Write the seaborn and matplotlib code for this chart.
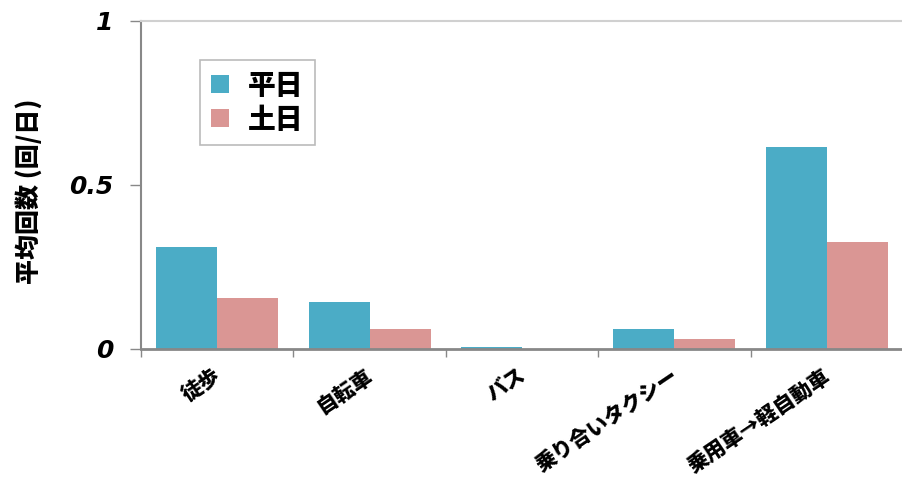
import matplotlib
matplotlib.use("Agg")
import matplotlib.pyplot as plt
import matplotlib.transforms as mtransforms
import seaborn as sns
import pandas as pd
import numpy as np

categories = ["徒歩", "自転車", "バス", "乗り合いタクシー", "乗用車→軽自動車"]
weekday = [0.311, 0.143, 0.006, 0.061, 0.616]
weekend = [0.155, 0.061, 0.0, 0.030, 0.326]
series = ["平日", "土日"]
colors = ["#4BACC6", "#DA9694"]
y_ticks = [0, 0.5, 1]
y_tick_labels = ["0", "0.5", "1"]
y_label = "平均回数 (回/日)"

sns.set_theme(style="white")
plt.rcParams['font.family'] = ['Noto Sans CJK JP', 'DejaVu Sans']
plt.rcParams['text.color'] = 'black'
plt.rcParams['axes.labelcolor'] = 'black'
plt.rcParams['xtick.color'] = 'black'
plt.rcParams['ytick.color'] = 'black'

df = pd.DataFrame({
    "cat": categories * 2,
    "series": [series[0]] * len(categories) + [series[1]] * len(categories),
    "val": weekday + weekend,
})

fig = plt.figure(figsize=(9.03, 4.8), dpi=100)
ax = fig.add_axes([141 / 903, 1 - 349 / 480, 762 / 903, 328 / 480])

sns.barplot(data=df, x="cat", y="val", hue="series", palette=colors,
            width=0.8, ax=ax, saturation=1, linewidth=0)

ax.set_xlim(-0.5, len(categories) - 0.5)
ax.set_ylim(0, 1)
ax.set_xlabel("")
ax.set_ylabel(y_label, fontsize=18, fontweight="heavy", color="black",
              family=['Noto Sans CJK JP', 'DejaVu Sans'])
ax.yaxis.set_label_coords(-0.13, 0.48)

ax.set_yticks(y_ticks)
ax.set_yticklabels(y_tick_labels, fontsize=18, fontweight="bold", fontstyle="italic",
                   family="DejaVu Sans", color="black")
ax.tick_params(axis="y", which="major", length=8, width=1, color="#888888", pad=12, left=True)

ax.set_xticks(range(len(categories)))
ax.set_xticklabels(categories, rotation=34, ha="right", rotation_mode="anchor",
                   fontsize=15, fontweight="heavy", color="black")
ax.tick_params(axis="x", which="major", length=0, pad=12)
offset = mtransforms.ScaledTranslation(-4 / 100, 0, fig.dpi_scale_trans)
for lbl in ax.get_xticklabels():
    lbl.set_transform(lbl.get_transform() + offset)
ax.set_xticks(np.arange(-0.5, len(categories), 1), minor=True)
ax.tick_params(axis="x", which="minor", length=6, width=1, color="#888888", bottom=True)

for side in ["left", "bottom", "top", "right"]:
    ax.spines[side].set_visible(True)
ax.spines["left"].set_color("#888888")
ax.spines["left"].set_linewidth(1.5)
ax.spines["bottom"].set_color("#888888")
ax.spines["bottom"].set_linewidth(2)
ax.spines["top"].set_color("#d0d0d0")
ax.spines["top"].set_linewidth(1.5)
ax.spines["right"].set_visible(False)

handles, labels = ax.get_legend_handles_labels()
leg = ax.legend(handles, labels, loc="upper left", bbox_to_anchor=(0.077, 0.881),
                borderaxespad=0,
                prop={"family": ['Noto Sans CJK JP', 'DejaVu Sans'], "weight": "heavy", "size": 20},
                frameon=True, fancybox=False, edgecolor="#aaaaaa", handlelength=0.65,
                handleheight=0.6, handletextpad=0.7, labelspacing=0.2, borderpad=0.4)
leg.get_frame().set_linewidth(1.2)
for t in leg.get_texts():
    t.set_color("black")

fig.savefig("out.png", dpi=100)
